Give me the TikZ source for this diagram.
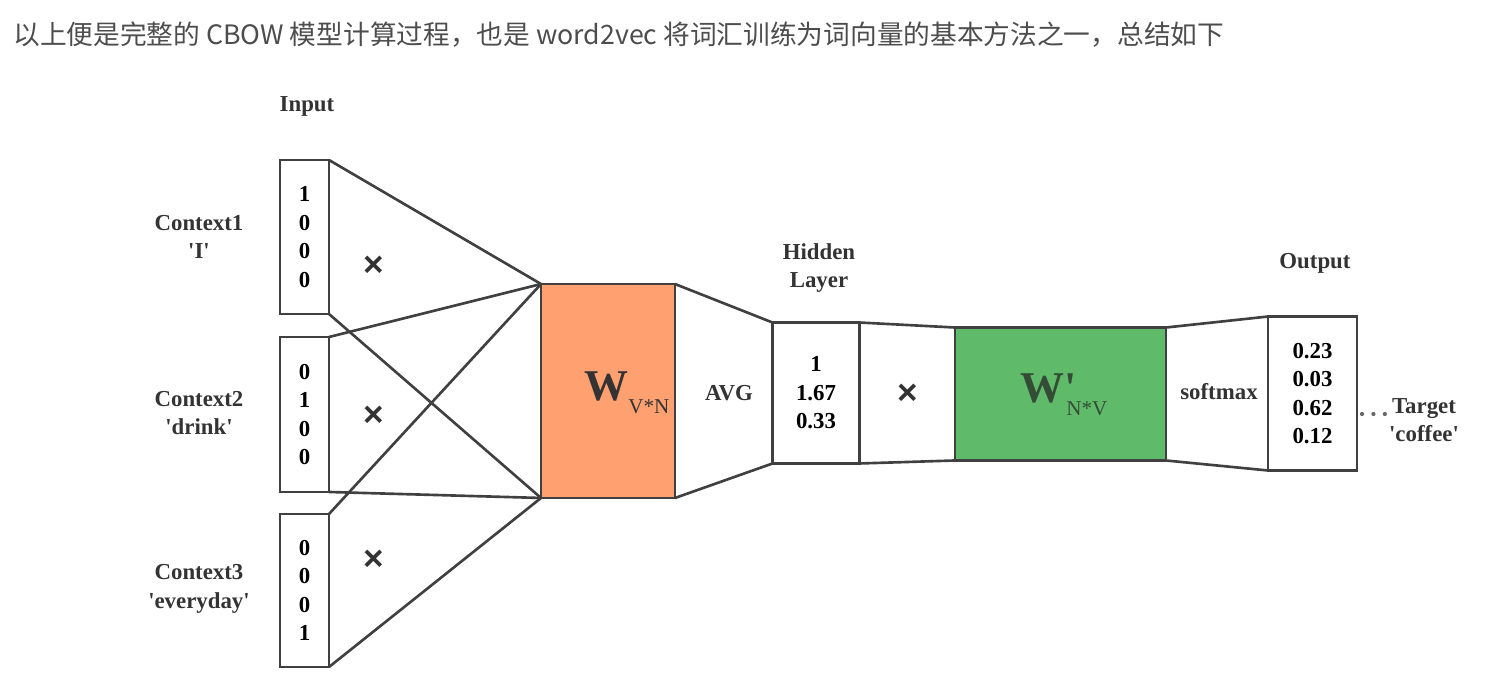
\documentclass[tikz,border=0pt]{standalone}
\usepackage{fontspec}
\setmainfont{Liberation Serif}
\newfontfamily\cjkfont{Noto Sans CJK SC}
\newfontfamily\crossfont{Liberation Sans}
\usepackage{xcolor}
\usepackage{tikz}
\usetikzlibrary{positioning,calc}
\definecolor{cbowline}{RGB}{64, 64, 64}
\definecolor{cboworange}{RGB}{255, 160, 112}
\definecolor{cbowgreen}{RGB}{95, 187, 106}
\definecolor{cbowtitle}{RGB}{77, 77, 77}
\definecolor{cbowdark}{RGB}{51, 51, 51}
\definecolor{cbowdkgreen}{RGB}{52, 76, 54}
\newcommand{\sq}{\textquotesingle}

\begin{document}
\begin{tikzpicture}[x=0.02cm, y=-0.02cm,
    vecbox/.style={draw=cbowline, line width=1.5pt, fill=white, rectangle, outer sep=0pt, inner sep=0pt, align=center, font=\fontsize{13}{16.2}\selectfont\bfseries},
    lbl/.style={align=center, inner sep=0pt, font=\fontsize{13}{16.2}\selectfont\bfseries, text=cbowdark},
    crossmark/.style={inner sep=0pt, font=\crossfont\bfseries\fontsize{20}{20}\selectfont, text=cbowdark},
    link/.style={draw=cbowline, line width=1.5pt}]
    \useasboundingbox (0,0) rectangle (1492,682);

    \node [anchor=west, inner sep=0pt, font=\cjkfont\fontsize{15.2}{17}\selectfont, text=cbowtitle] (title) at (13,35) {以上便是完整的 CBOW 模型计算过程，也是 word2vec 将词汇训练为词向量的基本方法之一，总结如下};

    % one-hot inputs
    \node [vecbox, minimum width=0.98cm, minimum height=3.08cm] (in1) at (304.5,237) {1\\0\\0\\0};
    \node [vecbox, minimum width=0.98cm, minimum height=3.10cm] (in2) at (304.5,414.5) {0\\1\\0\\0};
    \node [vecbox, minimum width=0.98cm, minimum height=3.06cm] (in3) at (304.5,590.5) {0\\0\\0\\1};

    % weight matrices, hidden and output
    \node [vecbox, fill=cboworange, minimum width=2.68cm, minimum height=4.28cm] (wvn) at (608,391) {};
    \node [vecbox, minimum width=1.74cm, minimum height=2.82cm] (hid) at (816,393) {1\\1.67\\0.33};
    \node [vecbox, fill=cbowgreen, minimum width=4.22cm, minimum height=2.66cm] (wnv) at (1060.5,394) {};
    \node [vecbox, minimum width=1.78cm, minimum height=3.08cm] (out) at (1312.5,393.5) {0.23\\0.03\\0.62\\0.12};

    \draw [link] (in1.north east) -- (wvn.north west);
    \draw [link] (in1.south east) -- (wvn.south west);
    \draw [link] (in2.north east) -- (wvn.north west);
    \draw [link] (in2.south east) -- (wvn.south west);
    \draw [link] (in3.north east) -- (wvn.north west);
    \draw [link] (in3.south east) -- (wvn.south west);
    \draw [link] (wvn.north east) -- (hid.north west);
    \draw [link] (wvn.south east) -- (hid.south west);
    \draw [link] (hid.north east) -- (wnv.north west);
    \draw [link] (hid.south east) -- (wnv.south west);
    \draw [link] (wnv.north east) -- (out.north west);
    \draw [link] (wnv.south east) -- (out.south west);

    \node [inner sep=0pt, text=cbowdark] (wvnlbl) at (627,393) {\fontsize{25}{25}\selectfont\bfseries W\raisebox{-0.3em}{\fontsize{12}{12}\selectfont\mdseries V*N}};
    \node [inner sep=0pt, text=cbowdkgreen] (wnvlbl) at (1064,395) {\fontsize{25}{25}\selectfont\bfseries W\rlap{\sq}\kern1pt\raisebox{-0.3em}{\fontsize{12}{12}\selectfont\mdseries N*V}};

    % labels
    \node [lbl] (inlbl) at (307,106) {Input};
    \node [lbl] (ctx1) at (199,237) {Context1\\\sq I\sq};
    \node [lbl] (ctx2) at (199,413) {Context2\\\sq drink\sq};
    \node [lbl] (ctx3) at (199,589) {Context3\\\sq everyday\sq};
    \node [lbl] (hidlbl) at (819,268) {Hidden\\Layer};
    \node [lbl] (outlbl) at (1315,263) {Output};
    \node [lbl] (avg) at (729,393) {AVG};
    \node [lbl] (softmax) at (1219,392) {softmax};
    \node [lbl] (target) at (1424,420) {Target\\\sq coffee\sq};

    \node [crossmark] (x1) at (374,266) {×};
    \node [crossmark] (x2) at (374,416) {×};
    \node [crossmark] (x3) at (374,560) {×};
    \node [crossmark] (x4) at (908,394) {×};

    \coordinate (dotend) at (1391,414);
    \draw [cbowline!80, line width=2.4pt, line cap=round, dash pattern=on 0pt off 6.5pt] ($(out.east |- dotend)+(5,0)$) -- (dotend);
\end{tikzpicture}
\end{document}
